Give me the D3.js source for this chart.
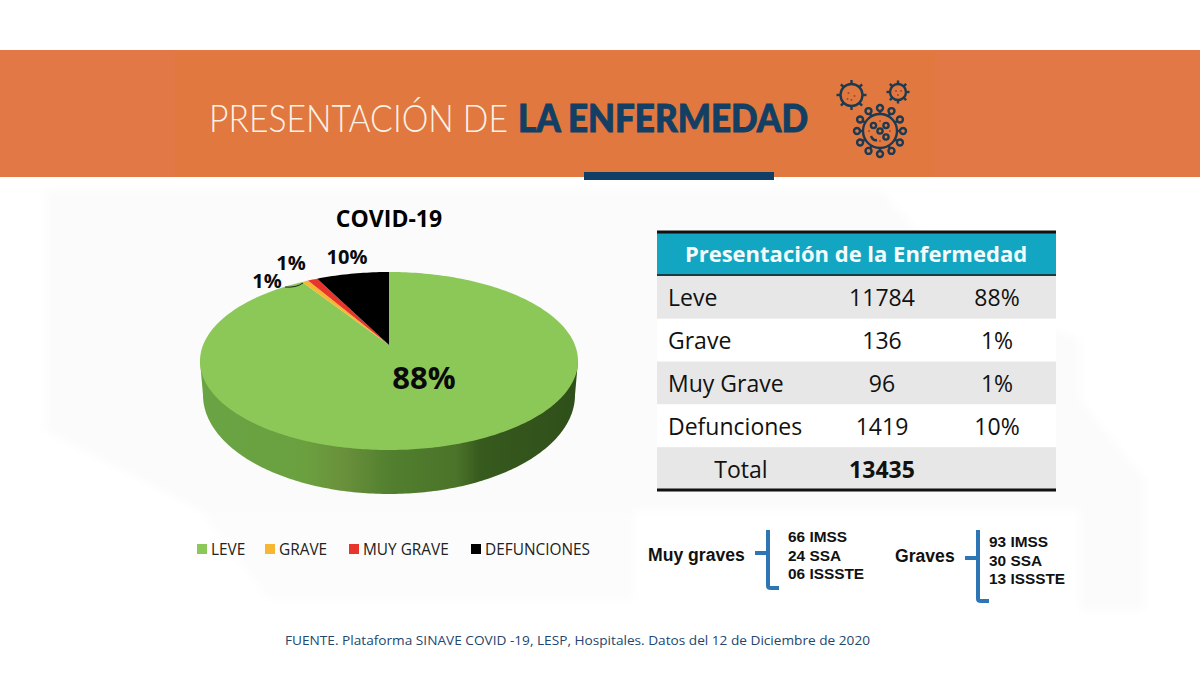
<!DOCTYPE html>
<html>
<head>
<meta charset="utf-8">
<script src="https://cdn.jsdelivr.net/npm/d3@7"></script>
<style>
html, body { margin: 0; padding: 0; background: #fff; }
svg { display: block; font-family: "Open Sans", sans-serif; }
</style>
</head>
<body>
<div id="chart"></div>
<script>
////////////////// DATA //////////////////
const CATEGORIES = ['LEVE', 'GRAVE', 'MUY GRAVE', 'DEFUNCIONES']
// share of the pie as it is drawn in the picture (percent of the rim)
const PIE_SHARES = [92.4, 0.55, 0.85, 6.2]
const PIE_COLORS = ['#8cc858', '#f7b733', '#e8352b', '#000000']
const TABLE_NAMES = ['Leve', 'Grave', 'Muy Grave', 'Defunciones']
const TABLE_COUNTS = [11784, 136, 96, 1419]
const TABLE_PCTS = ['88%', '1%', '1%', '10%']
const TOTAL = 13435
const MUY_GRAVES = ['66 IMSS', '24 SSA', '06 ISSSTE']
const GRAVES = ['93 IMSS', '30 SSA', '13 ISSSTE']

////////////////// SETUP //////////////////
const svg = d3.select('#chart').append('svg').attr('width', 1200).attr('height', 674)
const defs = svg.append('defs')
defs.append('filter').attr('id', 'soft').append('feGaussianBlur').attr('stdDeviation', 5)

// faint grey background with lighter diagonal bands
const bg = svg.append('g').attr('filter', 'url(#soft)')
bg.append('rect').attr('x', 45).attr('y', 190).attr('width', 1035).attr('height', 320).attr('fill', '#fbfbfb')
bg.append('rect').attr('x', 175).attr('y', 510).attr('width', 460).attr('height', 90).attr('fill', '#fcfcfc')
bg.append('polygon').attr('points', '45,430 200,510 300,640 45,640').attr('fill', '#ffffff')
bg.append('polygon').attr('points', '880,190 1080,190 1080,340 980,300').attr('fill', '#ffffff')
bg.append('polygon').attr('points', '1080,400 1145,480 1145,610 1080,610').attr('fill', '#fbfbfb')

///////////////// HEADER /////////////////
svg.append('rect').attr('x', 0).attr('y', 50).attr('width', 1200).attr('height', 127).attr('fill', '#e37847')
svg.append('rect').attr('x', 175).attr('y', 52).attr('width', 760).attr('height', 125).attr('fill', '#e07840')
svg.append('rect').attr('x', 584).attr('y', 172).attr('width', 190).attr('height', 8).attr('fill', '#0f3f66')

svg.append('text').attr('x', 209).attr('y', 132).attr('font-size', 37)
	.style('font-family', 'Lato, sans-serif').attr('font-weight', 300).attr('fill', '#fbf1e6')
	.attr('textLength', 299).attr('lengthAdjust', 'spacingAndGlyphs')
	.text('PRESENTACIÓN DE')
svg.append('text').attr('x', 518).attr('y', 132).attr('font-size', 37)
	.style('font-family', 'Lato, sans-serif').attr('font-weight', 900).attr('fill', '#123f63')
	.attr('stroke', '#123f63').attr('stroke-width', 0.9)
	.attr('textLength', 290).attr('lengthAdjust', 'spacingAndGlyphs')
	.text('LA ENFERMEDAD')

// virus icons
function drawVirus(cx, cy, r, spikes, tip, knob) {
	const g = svg.append('g').attr('transform', `translate(${cx},${cy})`)
		.attr('stroke', '#1d3a50').attr('fill', 'none').attr('stroke-width', 2.4)
	g.append('circle').attr('r', r)
	d3.range(spikes).forEach(i => {
		const a = i / spikes * 2 * Math.PI
		g.append('line')
			.attr('x1', r * Math.cos(a)).attr('y1', r * Math.sin(a))
			.attr('x2', tip * Math.cos(a)).attr('y2', tip * Math.sin(a))
		if (knob) {
			g.append('circle').attr('cx', (tip + knob) * Math.cos(a)).attr('cy', (tip + knob) * Math.sin(a)).attr('r', knob)
		}
	})
	return g
}
function drawDots(g, dots) {
	g.selectAll('circle.dot')
		.data(dots)
		.enter().append('circle').classed('dot', true)
		.attr('cx', d => d[0]).attr('cy', d => d[1]).attr('r', 1)
		.attr('fill', '#a8452a').attr('stroke', 'none')
}
drawDots(drawVirus(851.5, 95, 11, 8, 15, 0), [[-3, -2], [3, 1], [0, 5], [-4, 4]])
drawDots(drawVirus(898, 92, 8, 8, 11.5, 0), [[-2, -1], [3, -1], [0, 3]])
const big = drawVirus(880, 131, 17, 12, 20, 3)
;[[-6.5, -5.5], [6, -5.5], [0, 0], [6, 6]].forEach(p => {
	big.append('circle').attr('cx', p[0]).attr('cy', p[1]).attr('r', 2.6)
})
big.append('path').attr('d', 'M-9,5 Q-7,10 -3,9')
drawDots(big, [[-11, 0], [0, -10], [0, 10], [10, 0]])

////////////////// PIE ///////////////////
svg.append('text').attr('x', 389).attr('y', 227).attr('text-anchor', 'middle')
	.attr('font-size', 23).attr('font-weight', 700).attr('fill', '#000').text('COVID-19')

// the top of the disc is seen in perspective, so it is an ellipse with an off-center apex
const xRim = d3.scaleLinear().domain([-1, 1]).range([200, 578])
const yRim = d3.scaleLinear().domain([-1, 1]).range([450, 272])
const xWall = d3.scaleLinear().domain([-1, 1]).range([203, 575])
const yWall = d3.scaleLinear().domain([-1, 1]).range([494, 296])
const APEX_V = 0.18
const rimLine = d3.line().x(d => xRim(d[0])).y(d => yRim(d[1]))

const side = defs.append('linearGradient').attr('id', 'pie-side')
	.attr('gradientUnits', 'userSpaceOnUse').attr('x1', 200).attr('x2', 578).attr('y1', 0).attr('y2', 0)
side.selectAll('stop')
	.data([[0, '#69a444'], [0.28, '#6ba03f'], [0.38, '#6a903b'], [0.5, '#52802f'], [0.68, '#4b7329'], [0.74, '#375a1e'], [1, '#2f4f1a']])
	.enter().append('stop')
	.attr('offset', d => d[0]).attr('stop-color', d => d[1])

// side wall: lower half of the bottom ellipse, joined to the ends of the top ellipse
const lowerArc = d3.range(90, 270.5, 1).map(t => [Math.sin(t * Math.PI / 180), Math.cos(t * Math.PI / 180)])
const wallPath = d3.line()(lowerArc.map(d => [xWall(d[0]), yWall(d[1])]))
	+ `L${xRim(-1)},${yRim(0)}L${xRim(1)},${yRim(0)}Z`
svg.append('path').attr('d', wallPath).attr('fill', 'url(#pie-side)')

const arcs = d3.pie().sort(null).value(d => d)(PIE_SHARES)
function slicePoints(a) {
	const steps = Math.max(2, Math.ceil((a.endAngle - a.startAngle) * 180 / Math.PI))
	const rim = d3.range(steps + 1).map(i => {
		const t = a.startAngle + (a.endAngle - a.startAngle) * i / steps
		return [Math.sin(t), Math.cos(t)]
	})
	return [[0, APEX_V]].concat(rim)
}
svg.append('g').selectAll('path')
	.data(arcs)
	.enter().append('path')
	.attr('d', d => rimLine(slicePoints(d)) + 'Z')
	.attr('fill', (d, i) => PIE_COLORS[i])

// labels
const pieLabels = [['88%', 424, 389, 31], ['10%', 347, 264, 20], ['1%', 291, 270, 20], ['1%', 267, 288, 20]]
svg.append('g').selectAll('text')
	.data(pieLabels)
	.enter().append('text')
	.attr('x', d => d[1]).attr('y', d => d[2]).attr('text-anchor', 'middle')
	.attr('font-size', d => d[3]).attr('font-weight', 700).attr('fill', '#0a0a0a')
	.text(d => d[0])
svg.append('path').attr('d', 'M285,287 Q296,288 303,283').attr('fill', 'none').attr('stroke', '#222').attr('stroke-width', 1)

////////////////// LEGEND ////////////////
const legendX = [197, 265, 349, 471]
const legend = svg.append('g').selectAll('g')
	.data(CATEGORIES)
	.enter().append('g')
	.attr('transform', (d, i) => `translate(${legendX[i]},549)`)
legend.append('rect').attr('y', -5).attr('width', 10).attr('height', 10).attr('fill', (d, i) => PIE_COLORS[i])
legend.append('text').attr('x', 14).attr('y', 5.5).attr('font-size', 15.4).attr('fill', '#222').text(d => d)

////////////////// TABLE /////////////////
const rowY = d3.scaleBand().domain(d3.range(5)).range([276, 490])
svg.append('rect').attr('x', 657).attr('y', 233).attr('width', 399).attr('height', 42).attr('fill', '#12a6c2')
svg.append('text').attr('x', 856).attr('y', 262).attr('text-anchor', 'middle')
	.attr('font-size', 22).attr('font-weight', 700).attr('fill', '#f4fbfc').text('Presentación de la Enfermedad')
svg.append('g').selectAll('rect')
	.data(d3.range(5))
	.enter().append('rect')
	.attr('x', 657).attr('width', 399)
	.attr('y', d => rowY(d)).attr('height', rowY.bandwidth())
	.attr('fill', d => d % 2 === 0 ? '#e7e7e7' : '#ffffff')
const rows = svg.append('g').selectAll('g')
	.data(TABLE_NAMES)
	.enter().append('g')
	.attr('transform', (d, i) => `translate(0,${rowY(i) + rowY.bandwidth() / 2 + 9})`)
	.attr('font-size', 23).attr('fill', '#111')
rows.append('text').attr('x', 668).text(d => d)
rows.append('text').attr('x', 882).attr('text-anchor', 'middle').text((d, i) => TABLE_COUNTS[i])
rows.append('text').attr('x', 997).attr('text-anchor', 'middle').text((d, i) => TABLE_PCTS[i])
const totalY = rowY(4) + rowY.bandwidth() / 2 + 9
svg.append('text').attr('x', 741).attr('y', totalY).attr('text-anchor', 'middle').attr('font-size', 23).attr('fill', '#111').text('Total')
svg.append('text').attr('x', 882).attr('y', totalY).attr('text-anchor', 'middle').attr('font-size', 23).attr('font-weight', 700).attr('fill', '#111').text(TOTAL)
svg.append('line').attr('x1', 657).attr('x2', 1056).attr('y1', 232).attr('y2', 232).attr('stroke', '#111').attr('stroke-width', 3)
svg.append('line').attr('x1', 657).attr('x2', 1056).attr('y1', 275).attr('y2', 275).attr('stroke', '#1b3a44').attr('stroke-width', 2)
svg.append('line').attr('x1', 657).attr('x2', 1056).attr('y1', 490).attr('y2', 490).attr('stroke', '#111').attr('stroke-width', 3)

////////////////// BRACES ////////////////
function drawBrace(label, labelX, labelY, items, itemsX, itemsY, x, top, bottom, midY) {
	svg.append('text').attr('x', labelX).attr('y', labelY).style('font-family', '"Liberation Sans", sans-serif')
		.attr('font-size', 17.6).attr('font-weight', 700).attr('fill', '#111').text(label)
	svg.append('path')
		.attr('d', `M${x},${top} V${bottom - 2} Q${x},${bottom} ${x + 3},${bottom} H${x + 11} M${x - 13},${midY} H${x}`)
		.attr('fill', 'none').attr('stroke', '#2e75b6').attr('stroke-width', 4)
	svg.append('g').selectAll('text')
		.data(items)
		.enter().append('text')
		.attr('x', itemsX).attr('y', (d, i) => itemsY + i * 18.7)
		.style('font-family', '"Liberation Sans", sans-serif')
		.attr('font-size', 15.4).attr('font-weight', 700).attr('fill', '#111').text(d => d)
}
drawBrace('Muy graves', 648, 561, MUY_GRAVES, 788, 542, 768, 530, 588, 553)
drawBrace('Graves', 895, 562, GRAVES, 989, 547, 978, 530, 601, 558)

////////////////// SOURCE ////////////////
svg.append('text').attr('x', 285).attr('y', 645).attr('font-size', 13.4).attr('fill', '#23466e')
	.attr('textLength', 585).attr('lengthAdjust', 'spacingAndGlyphs')
	.text('FUENTE. Plataforma SINAVE COVID -19, LESP, Hospitales. Datos del 12 de Diciembre de 2020')
</script>
</body>
</html>
